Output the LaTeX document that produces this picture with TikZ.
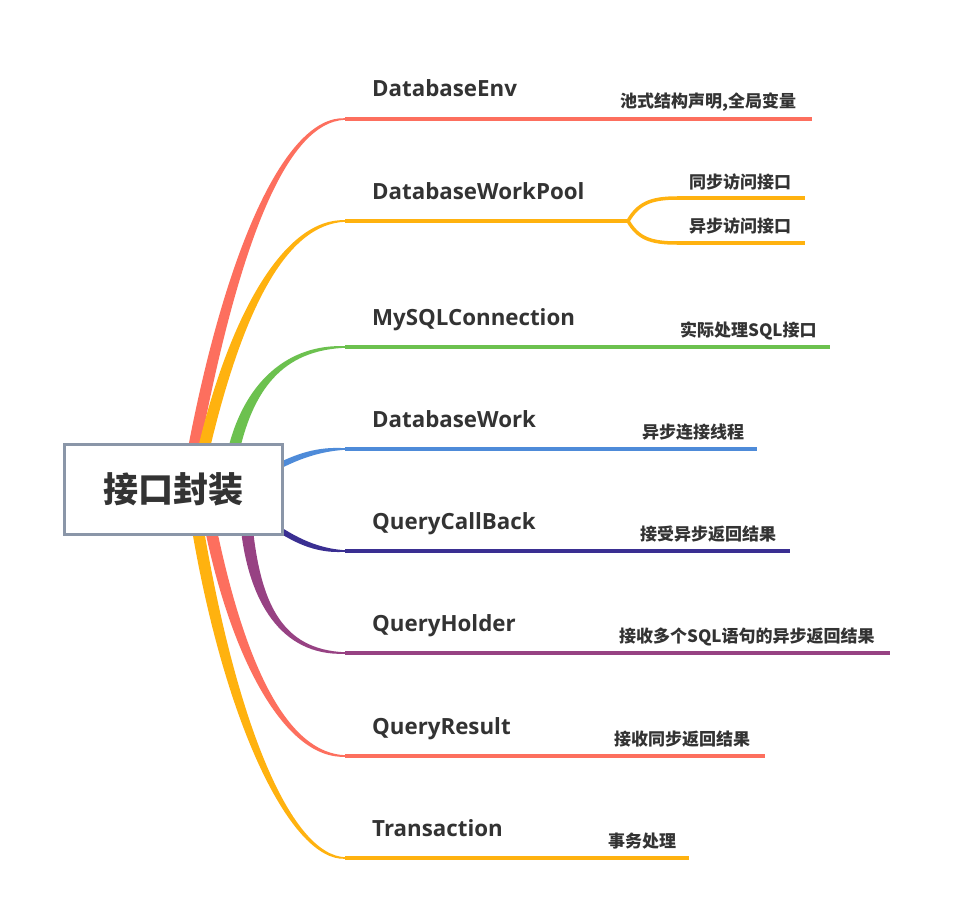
\documentclass[tikz,border=0pt]{standalone}
\usepackage{fontspec}
\setmainfont{Open Sans}
\newfontfamily\cjkfont{Noto Sans CJK SC}
\usetikzlibrary{calc}

\definecolor{brred}{HTML}{FD6F5E}
\definecolor{brorange}{HTML}{FFB20F}
\definecolor{brgreen}{HTML}{6CC14F}
\definecolor{brblue}{HTML}{4E8BD9}
\definecolor{brindigo}{HTML}{3A2F92}
\definecolor{brpurple}{HTML}{974283}
\definecolor{boxgrey}{HTML}{8A96A8}
\definecolor{txtgrey}{HTML}{333333}

\tikzset{
  rootbox/.style={draw=boxgrey, line width=3pt, fill=white, minimum width=218pt,
    minimum height=90pt, inner sep=0pt, text=txtgrey,
    font=\cjkfont\bfseries\fontsize{35}{35}\selectfont},
  topic/.style={anchor=base west, inner sep=0pt, text=txtgrey,
    font=\bfseries\fontsize{22.3}{22.3}\selectfont},
  subtopic/.style={anchor=base west, inner sep=0pt, text=txtgrey,
    font=\cjkfont\bfseries\fontsize{17}{17}\selectfont},
  underline/.style={line width=4pt},
  forkline/.style={line width=3.5pt},
}

% tapered branch: colour, start, control 1, control 2, end, start offset, end offset
\newcommand{\branchfill}[7]{%
  \fill[#1] ($(#2)-(#6)$) .. controls ($(#3)-(#6)$) and ($(#4)-4*(0,#7)$) .. ($(#5)-(0,#7)$)
    -- ($(#5)+(0,#7)$) .. controls ($(#4)+4*(0,#7)$) and ($(#3)+(#6)$) .. ($(#2)+(#6)$) -- cycle;}

\begin{document}
\begin{tikzpicture}[x=1pt,y=-1pt]
\fill[white] (0,0) rectangle (953,923);
\useasboundingbox (0,0) rectangle (953,923);

% line ends
\coordinate (envL) at (345,119);    \coordinate (envR) at (812,119);
\coordinate (poolL) at (345,221);   \coordinate (poolF) at (628,221);
\coordinate (poolAL) at (677,198);  \coordinate (poolAR) at (805,198);
\coordinate (poolBL) at (677,243);  \coordinate (poolBR) at (805,243);
\coordinate (mysqlL) at (345,347);  \coordinate (mysqlR) at (830,347);
\coordinate (workL) at (345,449);   \coordinate (workR) at (757,449);
\coordinate (cbL) at (345,551);     \coordinate (cbR) at (790,551);
\coordinate (holderL) at (345,653); \coordinate (holderR) at (890,653);
\coordinate (resultL) at (345,756); \coordinate (resultR) at (765,756);
\coordinate (transL) at (345,858);  \coordinate (transR) at (689,858);

% branches from the root
\branchfill{brred}{194,448}{232,249}{285,119}{envL}{6,0}{0.8}
\branchfill{brorange}{204,448}{237,310}{286,221}{poolL}{6,0}{0.8}
\branchfill{brgreen}{232,458}{248,380}{290,347}{mysqlL}{6,0}{0.8}
\branchfill{brblue}{245,485}{282,463}{308,449}{workL}{0,3.5}{0.8}
\branchfill{brindigo}{245,505}{282,533}{308,551}{cbL}{0,3.5}{0.8}
\branchfill{brpurple}{247,530}{255,600}{280,653}{holderL}{6,0}{-0.8}
\branchfill{brred}{211,530}{240,668}{288,756}{resultL}{6,0}{-0.8}
\branchfill{brorange}{198,530}{232,729}{292,858}{transL}{6,0}{-0.8}

\node[rootbox] (root) at (173.5,489.5) {接口封装};

% underlines
\draw[underline, brred] (envL) -- (envR);
\draw[underline, brorange] (poolL) -- (poolF);
\draw[forkline, brorange] (poolF) .. controls (638,204) and (650,198) .. (poolAL);
\draw[forkline, brorange] (poolF) .. controls (638,238) and (650,243) .. (poolBL);
\draw[underline, brorange] (poolAL) -- (poolAR);
\draw[underline, brorange] (poolBL) -- (poolBR);
\draw[underline, brgreen] (mysqlL) -- (mysqlR);
\draw[underline, brblue] (workL) -- (workR);
\draw[underline, brindigo] (cbL) -- (cbR);
\draw[underline, brpurple] (holderL) -- (holderR);
\draw[underline, brred] (resultL) -- (resultR);
\draw[underline, brorange] (transL) -- (transR);

% topics
\node[topic] (env) at (372,97) {DatabaseEnv};
\node[topic] (pool) at (372,199) {DatabaseWorkPool};
\node[topic] (mysql) at (372,325) {MySQLConnection};
\node[topic] (work) at (372,427) {DatabaseWork};
\node[topic] (cb) at (372,529) {QueryCallBack};
\node[topic] (holder) at (372,631) {QueryHolder};
\node[topic] (result) at (372,734) {QueryResult};
\node[topic] (trans) at (372,836) {Transaction};

% subtopics
\node[subtopic] (envC) at (620,108) {池式结构声明,全局变量};
\node[subtopic] (poolA) at (689,188) {同步访问接口};
\node[subtopic] (poolB) at (689,232) {异步访问接口};
\node[subtopic] (mysqlC) at (680,336) {实际处理SQL接口};
\node[subtopic] (workC) at (642,438) {异步连接线程};
\node[subtopic] (cbC) at (640,540) {接受异步返回结果};
\node[subtopic] (holderC) at (619,642) {接收多个SQL语句的异步返回结果};
\node[subtopic] (resultC) at (614,745) {接收同步返回结果};
\node[subtopic] (transC) at (608,847) {事务处理};
\end{tikzpicture}
\end{document}
